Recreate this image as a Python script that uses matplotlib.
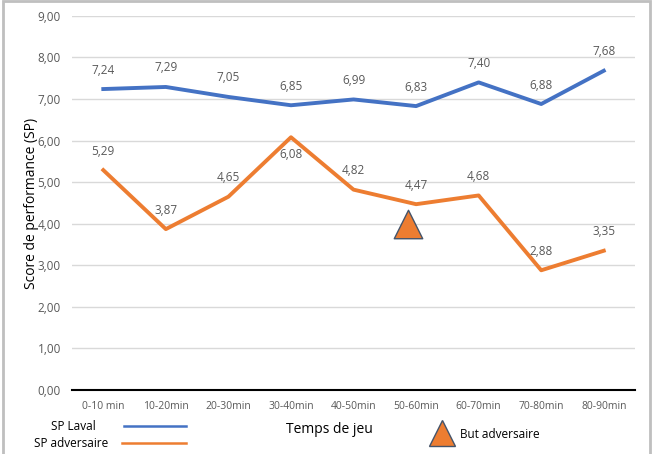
import matplotlib
matplotlib.use("Agg")
import matplotlib.pyplot as plt
from matplotlib.lines import Line2D
from matplotlib.patches import Rectangle

# données
periodes = ["0-10 min", "10-20min", "20-30min", "30-40min", "40-50min",
            "50-60min", "60-70min", "70-80min", "80-90min"]
sp_laval = [7.24, 7.29, 7.05, 6.85, 6.99, 6.83, 7.40, 6.88, 7.68]
sp_adversaire = [5.29, 3.87, 4.65, 6.08, 4.82, 4.47, 4.68, 2.88, 3.35]
but_x = [4.87]
but_y = [4.0]

bleu = "#4472C4"
orange = "#ED7D31"
gris = "#595959"

plt.rcParams['font.family'] = ['Open Sans', 'DejaVu Sans']

fig = plt.figure(figsize=(6.57, 4.54), dpi=100)
ax = fig.add_axes([0.1096, 0.141, 0.857, 0.824])

x = list(range(len(periodes)))
ax.plot(x, sp_laval, color=bleu, lw=2.8, solid_joinstyle="round")
ax.plot(x, sp_adversaire, color=orange, lw=2.8, solid_joinstyle="round")
ax.scatter(but_x, but_y, marker="^", s=420, color=orange, edgecolor="#44546A",
           linewidth=1, zorder=5)

for i, v in enumerate(sp_laval):
    ax.annotate(f"{v:.2f}".replace(".", ","), (i, v), xytext=(0, 9),
                textcoords="offset points", ha="center", va="bottom",
                fontsize=8.5, color=gris)
for i, v in enumerate(sp_adversaire):
    if i == 3:
        ax.annotate(f"{v:.2f}".replace(".", ","), (i, v), xytext=(0, -8),
                    textcoords="offset points", ha="center", va="top",
                    fontsize=8.5, color=gris)
    else:
        ax.annotate(f"{v:.2f}".replace(".", ","), (i, v), xytext=(0, 9),
                    textcoords="offset points", ha="center", va="bottom",
                    fontsize=8.5, color=gris)

ax.set_xlim(-0.5, len(periodes) - 0.5)
ax.set_ylim(0, 9)
ax.set_yticks(range(0, 10))
ax.set_yticklabels([f"{v},00" for v in range(0, 10)], fontsize=8.5, color=gris)
ax.set_xticks(x)
ax.set_xticklabels(periodes, fontsize=7.5, color=gris)
ax.tick_params(length=0, pad=8)
ax.grid(axis="y", color="#D9D9D9", lw=1)
ax.set_axisbelow(True)
for s in ["top", "right", "left"]:
    ax.spines[s].set_visible(False)
ax.spines["bottom"].set_color("black")
ax.spines["bottom"].set_linewidth(1.5)

ax.set_ylabel("Score de performance (SP)", fontsize=10, color="black", labelpad=-1)
fig.text(0.502, 0.055, "Temps de jeu", ha="center", va="center", fontsize=10)

# légende
fig.text(0.145, 0.061, "SP Laval", ha="right", va="center", fontsize=8.5)
fig.text(0.165, 0.024, "SP adversaire", ha="right", va="center", fontsize=8.5)
fig.add_artist(Line2D([0.188, 0.283], [0.061, 0.061], color=bleu, lw=1.8))
fig.add_artist(Line2D([0.186, 0.283], [0.024, 0.024], color=orange, lw=1.8))
fig.add_artist(Line2D([0.673], [0.0455], marker="^", markersize=19,
                      color=orange, markeredgecolor="#44546A", markeredgewidth=1))
fig.text(0.700, 0.043, "But adversaire", ha="left", va="center", fontsize=8.5)

fig.add_artist(Rectangle((0.004, -0.01), 0.985, 1.007, transform=fig.transFigure,
                         fill=False, edgecolor="#BFBFBF", lw=2))

fig.savefig("out.png", dpi=100)
